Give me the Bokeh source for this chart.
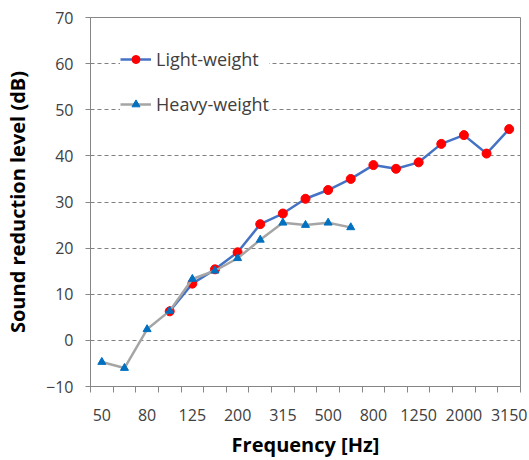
from bokeh.plotting import figure
from bokeh.models import FixedTicker, Range1d, Legend, LegendItem, ColumnDataSource
from bokeh.embed import file_html
from bokeh.resources import INLINE

# Third-octave band centre frequencies (categories)
freqs = ["50", "63", "80", "100", "125", "160", "200", "250", "315", "400",
         "500", "630", "800", "1000", "1250", "1600", "2000", "2500", "3150"]
tick_labels = ["50", "80", "125", "200", "315", "500", "800", "1250", "2000", "3150"]

light_freqs = ["100", "125", "160", "200", "250", "315", "400", "500", "630",
               "800", "1000", "1250", "1600", "2000", "2500", "3150"]
light_vals = [6.3, 12.3, 15.4, 19.1, 25.2, 27.5, 30.7, 32.6, 35.0,
              38.0, 37.2, 38.6, 42.6, 44.5, 40.5, 45.8]

heavy_freqs = ["50", "63", "80", "100", "125", "160", "200", "250", "315",
               "400", "500", "630"]
heavy_vals = [-4.7, -6.0, 2.4, 6.4, 13.3, 15.1, 17.8, 21.8, 25.5, 25.0, 25.5, 24.5]

idx = {f: i for i, f in enumerate(freqs)}
light_src = ColumnDataSource(dict(x=[idx[f] for f in light_freqs], y=light_vals))
heavy_src = ColumnDataSource(dict(x=[idx[f] for f in heavy_freqs], y=heavy_vals))

FONT = "Open Sans"
GREY = "#868686"

p = figure(width=529, height=460, output_backend="svg", toolbar_location=None,
           x_range=Range1d(-0.5, len(freqs) - 0.5), y_range=Range1d(-10, 70),
           min_border_left=90, min_border_right=9, min_border_top=17,
           min_border_bottom=73)
p.background_fill_color = "white"
p.border_fill_color = "white"
p.outline_line_color = GREY
p.outline_line_width = 1

# Lines + markers
l1 = p.line("x", "y", source=light_src, line_color="#4472C4", line_width=2.5)
s1 = p.scatter("x", "y", source=light_src, marker="circle", size=9,
               fill_color="#FF0000", line_color="#FF0000")
l2 = p.line("x", "y", source=heavy_src, line_color="#A5A5A5", line_width=2.5)
s2 = p.scatter("x", "y", source=heavy_src, marker="triangle", size=8,
               fill_color="#0070C0", line_color="#0070C0")

# X axis: labels at every other category, tick marks between categories
label_pos = [idx[t] for t in tick_labels]
p.xaxis.ticker = FixedTicker(ticks=label_pos,
                             minor_ticks=[i - 0.5 for i in range(len(freqs) + 1)])
p.xaxis.major_label_overrides = {pos: t for pos, t in zip(label_pos, tick_labels)}
p.xaxis.major_tick_out = 0
p.xaxis.major_tick_in = 0
p.xaxis.minor_tick_out = 6
p.xaxis.minor_tick_in = 0
p.xaxis.minor_tick_line_color = GREY
p.xaxis.axis_line_color = GREY
p.xaxis.major_label_standoff = 16
p.xaxis.major_label_text_font = FONT
p.xaxis.major_label_text_font_size = "16px"
p.xaxis.major_label_text_color = "#404040"
p.xaxis.axis_label = "Frequency [Hz]"
p.xaxis.axis_label_text_font = FONT
p.xaxis.axis_label_text_font_size = "20px"
p.xaxis.axis_label_text_font_style = "bold"
p.xaxis.axis_label_text_color = "#000000"
p.xaxis.axis_label_standoff = 7

# Y axis
p.yaxis.ticker = FixedTicker(ticks=list(range(-10, 71, 10)))
p.yaxis.major_tick_out = 5
p.yaxis.major_tick_in = 0
p.yaxis.minor_tick_out = 0
p.yaxis.minor_tick_in = 0
p.yaxis.major_tick_line_color = GREY
p.yaxis.axis_line_color = GREY
p.yaxis.major_label_standoff = 12
p.yaxis.major_label_text_font = FONT
p.yaxis.major_label_text_font_size = "16px"
p.yaxis.major_label_text_color = "#404040"
p.yaxis.axis_label = "Sound reduction level (dB)"
p.yaxis.axis_label_text_font = FONT
p.yaxis.axis_label_text_font_size = "20px"
p.yaxis.axis_label_text_font_style = "bold"
p.yaxis.axis_label_text_color = "#000000"
p.yaxis.axis_label_standoff = 12

# Grid
p.xgrid.visible = False
p.ygrid.ticker = FixedTicker(ticks=list(range(0, 61, 10)))
p.ygrid.grid_line_color = "#808080"
p.ygrid.grid_line_dash = "4 3"
p.ygrid.grid_line_width = 1

legend = Legend(items=[LegendItem(label="Light-weight", renderers=[l1, s1]),
                       LegendItem(label="Heavy-weight", renderers=[l2, s2])],
                location="top_left", margin=30, padding=14, spacing=21,
                glyph_width=31, glyph_height=20, label_height=20,
                label_standoff=5, border_line_color=None,
                background_fill_color="white", background_fill_alpha=1.0,
                label_text_font=FONT, label_text_font_size="18px",
                label_text_color="#404040")
p.add_layout(legend)

open("out.html", "w").write(file_html(p, INLINE))
